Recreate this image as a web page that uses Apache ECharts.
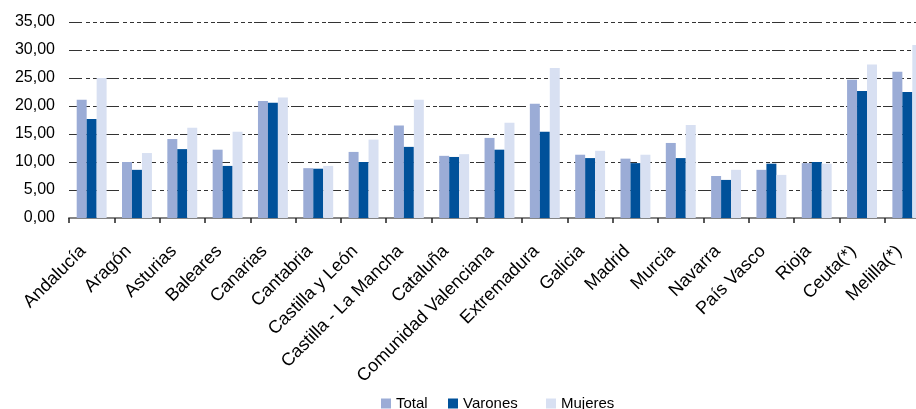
<!DOCTYPE html>
<html>
<head>
<meta charset="utf-8">
<script src="https://cdn.jsdelivr.net/npm/echarts@6/dist/echarts.min.js"></script>
<style>
html,body{margin:0;padding:0;background:#fff;}
#chart{width:916px;height:409px;}
</style>
</head>
<body>
<div id="chart"></div>
<script>
var categories = ["Andalucía","Aragón","Asturias","Baleares","Canarias","Cantabria","Castilla y León","Castilla - La Mancha","Cataluña","Comunidad Valenciana","Extremadura","Galicia","Madrid","Murcia","Navarra","País Vasco","Rioja","Ceuta(*)","Melilla(*)"];
var total   = [21.1,10.0,14.1,12.2,20.9, 8.9,11.8,16.5,11.1,14.3,20.4,11.3,10.6,13.4,7.5,8.6, 9.8,24.7,26.1];
var varones = [17.7, 8.6,12.3, 9.3,20.6, 8.8,10.0,12.7,10.9,12.2,15.4,10.7, 9.8,10.7,6.8,9.7,10.0,22.7,22.5];
var mujeres = [25.0,11.6,16.1,15.4,21.5, 9.3,14.0,21.1,11.4,17.0,26.8,12.0,11.3,16.6,8.6,7.7, 9.7,27.4,30.9];
var seriesNames = ["Total","Varones","Mujeres"];
var yTicks = {min:0, max:35, interval:5};

var colors = ["#9BACD6","#00519A","#D8E0F2"];
var font = "Liberation Sans, Arial, sans-serif";
var chart = echarts.init(document.getElementById('chart'), null, {renderer:'canvas'});
function mk(name, data, i){
  return {name:name, type:'bar', data:data, barGap:'0%', barCategoryGap:'34%',
    itemStyle:{color:colors[i]}, emphasis:{disabled:true}};
}
var legendLefts = [381, 448, 546];
function lg(i){
  return {data:[seriesNames[i]], left:legendLefts[i], top:396, padding:0,
    itemWidth:10, itemHeight:10, itemGap:0, icon:'rect', selectedMode:false,
    textStyle:{fontFamily:font, fontSize:15, color:'#000'}};
}
chart.setOption({
  animation:false,
  color:colors,
  grid:{left:69, width:861, top:22, bottom:191, containLabel:false, outerBoundsMode:'none'},
  legend:[lg(0), lg(1), lg(2)],
  xAxis:{
    type:'category', data:categories,
    axisLine:{show:true, lineStyle:{color:'#858585', width:2}},
    axisTick:{show:true, alignWithLabel:false, length:5, lineStyle:{color:'#222', width:1.5}},
    axisLabel:{rotate:45, interval:0, margin:22, fontFamily:font, fontSize:18, color:'#000',
      padding:[0,12,0,0]}
  },
  yAxis:{
    type:'value', min:yTicks.min, max:yTicks.max, interval:yTicks.interval,
    axisLine:{show:false}, axisTick:{show:false},
    axisLabel:{margin:14, fontFamily:font, fontSize:16, color:'#000',
      formatter:function(v){return v.toFixed(2).replace('.',',');}},
    splitLine:{show:true, lineStyle:{color:'#333', width:1.2, type:[13,4,4,3,4,3,4,2]}}
  },
  series:[mk(seriesNames[0],total,0), mk(seriesNames[1],varones,1), mk(seriesNames[2],mujeres,2)]
});
</script>
</body>
</html>
